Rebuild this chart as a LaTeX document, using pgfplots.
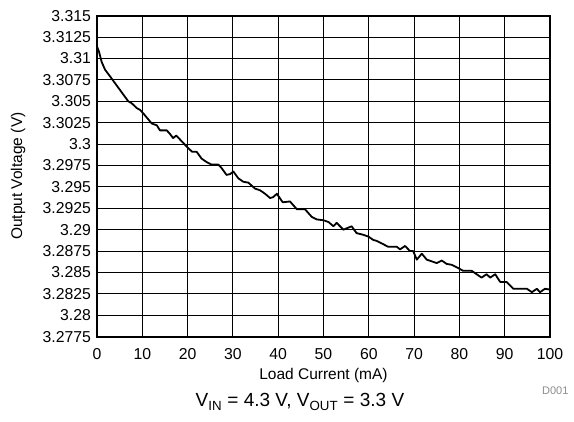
\documentclass[border=0pt]{standalone}
\usepackage{pgfplots}
\pgfplotsset{compat=1.18}
\usepackage{fontspec}
\setmainfont{Liberation Sans}
\begin{document}
\begin{tikzpicture}
\useasboundingbox (-97pt,-85.3pt) rectangle (477pt,336.7pt);
\begin{axis}[
  at={(0,0)}, anchor=south west, scale only axis,
  width=453pt, height=321pt,
  xmin=0, xmax=100, ymin=3.2775, ymax=3.315,
  xtick={0,10,20,30,40,50,60,70,80,90,100},
  ytick={3.2775,3.28,3.2825,3.285,3.2875,3.29,3.2925,3.295,3.2975,3.3,3.3025,3.305,3.3075,3.31,3.3125,3.315},
  yticklabels={3.2775,3.28,3.2825,3.285,3.2875,3.29,3.2925,3.295,3.2975,3.3,3.3025,3.305,3.3075,3.31,3.3125,3.315},
  /pgf/number format/assume math mode=true,
  grid=major,
  major grid style={black, line width=0.9pt},
  axis line style={line width=2pt},
  major tick length=0pt,
  tick label style={font=\fontsize{15.8}{18}\selectfont},
  xticklabel style={yshift=-8pt},
  yticklabel style={xshift=-2.5pt},
  label style={font=\fontsize{15.5}{18}\selectfont},
  xlabel={Load Current (mA)},
  xlabel style={at={(axis description cs:0.5,-0.1224)}, anchor=center},
  ylabel={Output Voltage (V)},
  ylabel style={at={(axis description cs:-0.174,0.5)}, anchor=center},
  clip=false,
]
\addplot[black, line width=1.8pt, line join=round] coordinates {
(0,3.3114) (0.44,3.3108) (1.03,3.3096) (1.77,3.3087) (2.9,3.3079) (4.0,3.3071)
(6.9,3.3050) (7.6,3.3048) (8.8,3.3042) (9.5,3.3040) (10.2,3.3036) (12.1,3.3024)
(13.2,3.3022) (13.9,3.3016) (15.4,3.3016) (16.1,3.3012) (16.8,3.3007) (17.5,3.3010)
(19.1,3.3001) (20.2,3.2995) (21.0,3.2991) (22.0,3.2991) (23.1,3.2983) (24.2,3.2979)
(25.3,3.2976) (26.8,3.2976) (27.5,3.2972) (28.6,3.2964) (29.4,3.2965) (30.1,3.2968)
(31.2,3.2960) (32.3,3.2956) (33.4,3.2955) (34.9,3.2948) (36.0,3.2946) (37.1,3.2942)
(38.2,3.2937) (38.9,3.2938) (39.7,3.2942) (41.0,3.2932) (42.6,3.2933) (44.1,3.2924)
(45.9,3.2924) (47.4,3.2915) (48.5,3.2912) (50.0,3.2911) (51.1,3.2909) (52.2,3.2904)
(52.9,3.2908) (54.4,3.2900) (56.2,3.2904) (57.3,3.2896) (58.8,3.2894) (59.9,3.2892)
(61.0,3.2888) (61.7,3.2887) (63.2,3.2883) (64.3,3.2880) (66.2,3.2880) (66.9,3.2877)
(68.0,3.2881) (69.1,3.2875) (69.8,3.2875) (70.6,3.2865) (71.7,3.2872) (72.8,3.2865)
(73.9,3.2863) (75.0,3.2861) (76.1,3.2864) (77.2,3.2860) (78.3,3.2859) (79.8,3.2855)
(80.8,3.2852) (82.7,3.2852) (83.8,3.2848) (84.9,3.2844) (86.0,3.2848) (86.8,3.2844)
(87.9,3.2848) (89.0,3.2839) (90.4,3.2839) (91.9,3.2831) (94.9,3.2831) (96.0,3.2827)
(97.1,3.2831) (97.8,3.2827) (98.9,3.2831) (100,3.2830)
};
\node[anchor=east, text=black!45, font=\fontsize{11}{13}\selectfont] at (axis description cs:1.0486,-0.169) {D001};
\node[anchor=center, font=\fontsize{19}{22}\selectfont] at (axis description cs:0.448,-0.2034) {V\textsubscript{IN} = 4.3 V, V\textsubscript{OUT} = 3.3 V};
\end{axis}
\end{tikzpicture}
\end{document}
